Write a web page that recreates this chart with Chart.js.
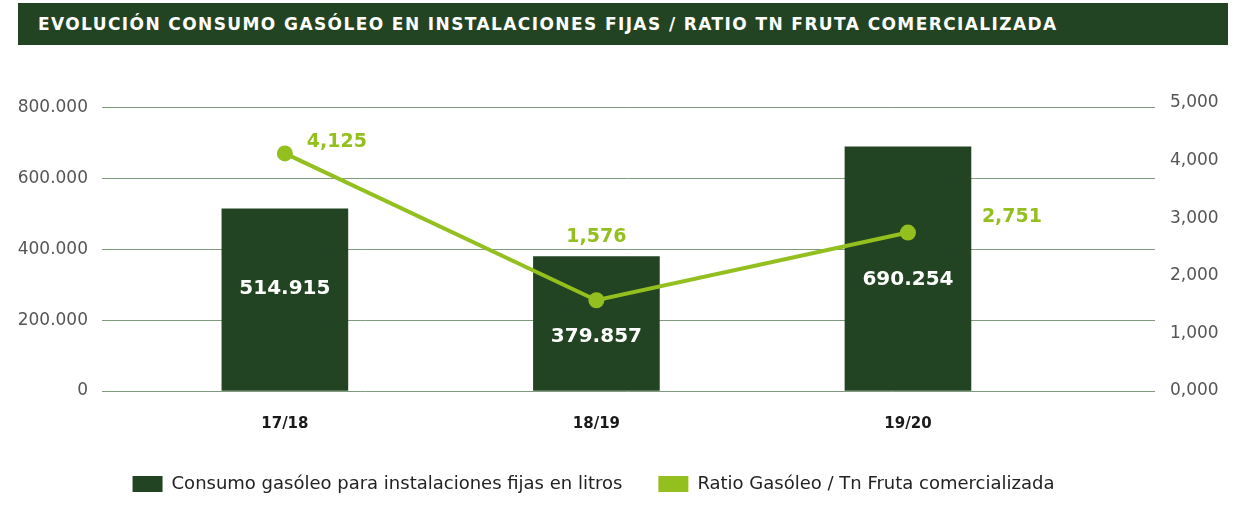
<!DOCTYPE html>
<html>
<head>
<meta charset="utf-8">
<script src="https://cdn.jsdelivr.net/npm/chart.js@4/dist/chart.umd.min.js"></script>
<style>
  html, body { margin: 0; padding: 0; background: #fff; }
  body { width: 1247px; height: 520px; position: relative; overflow: hidden; font-family: "DejaVu Sans", sans-serif; }
  .title {
    position: absolute; left: 18px; top: 3px; width: 1210px; height: 42px;
    background: #234423; color: #fff; font-weight: 700; font-size: 17px;
    line-height: 42px; padding-left: 20px; box-sizing: border-box; letter-spacing: 1.4px;
  }
  #wrap { position: absolute; left: 0; top: 0; width: 1247px; height: 520px; }
</style>
</head>
<body>
<div class="title">EVOLUCIÓN CONSUMO GASÓLEO EN INSTALACIONES FIJAS / RATIO TN FRUTA COMERCIALIZADA</div>
<div id="wrap"><canvas id="chart" width="1247" height="520"></canvas></div>
<script>
// data
const categories = ["17/18", "18/19", "19/20"];
const consumoLitros = [514915, 379857, 690254];
const ratioGasoleo = [4.125, 1.576, 2.751];
const leftTicks = [0, 200000, 400000, 600000, 800000];

const darkGreen = "#234423";
const lightGreen = "#93bf1f";
const gridColor = "#7f9a7c";
const fontFamily = "'DejaVu Sans', sans-serif";

// label placement tweaks (pixels), not data
const barLabelShift = [-11, 13, 11];
const lineLabelShift = [[52, -11], [0, -63], [104, -15]];

const fmtThousands = (v) => Math.round(v).toString().replace(/\B(?=(\d{3})+(?!\d))/g, ".");
const fmtRatio = (v) => v.toFixed(3).replace(".", ",");

const valueLabels = {
  id: "valueLabels",
  afterLayout(chart) {
    // legend sits a bit left of the canvas centre in the original
    if (chart.legend) {
      chart.legend.left -= 30;
      chart.legend.right -= 30;
    }
  },
  afterDatasetsDraw(chart) {
    const ctx = chart.ctx;
    ctx.save();
    ctx.textAlign = "center";
    ctx.textBaseline = "middle";
    chart.getDatasetMeta(0).data.forEach((bar, i) => {
      const mid = (bar.y + bar.base) / 2 + barLabelShift[i];
      ctx.fillStyle = "#fff";
      ctx.font = "700 20px " + fontFamily;
      ctx.fillText(fmtThousands(consumoLitros[i]), bar.x, mid);
    });
    chart.getDatasetMeta(1).data.forEach((pt, i) => {
      ctx.fillStyle = lightGreen;
      ctx.font = "700 19px " + fontFamily;
      ctx.fillText(fmtRatio(ratioGasoleo[i]), pt.x + lineLabelShift[i][0], pt.y + lineLabelShift[i][1]);
    });
    ctx.restore();
  }
};

new Chart(document.getElementById("chart"), {
  data: {
    datasets: [
      {
        type: "bar",
        label: "Consumo gasóleo para instalaciones fijas en litros",
        data: consumoLitros.map((v, i) => ({ x: i, y: v })),
        backgroundColor: darkGreen,
        borderWidth: 0,
        barThickness: 126,
        yAxisID: "y",
        order: 1
      },
      {
        type: "line",
        label: "Ratio Gasóleo / Tn Fruta comercializada",
        data: ratioGasoleo.map((v, i) => ({ x: i, y: v })),
        borderColor: lightGreen,
        backgroundColor: lightGreen,
        borderWidth: 4,
        pointRadius: 8,
        pointHoverRadius: 8,
        pointBackgroundColor: lightGreen,
        pointBorderWidth: 0,
        tension: 0,
        yAxisID: "y1",
        order: 0
      }
    ]
  },
  options: {
    responsive: false,
    animation: false,
    layout: { padding: { top: 103, left: 0, right: 0, bottom: 17 } },
    scales: {
      x: {
        type: "linear",
        offset: false,
        min: -0.587,
        max: 2.793,
        afterBuildTicks: (scale) => { scale.ticks = categories.map((c, i) => ({ value: i })); },
        afterFit: (scale) => { scale.height = 48; },
        grid: { display: false },
        border: { display: false },
        ticks: {
          callback: (v) => categories[v],
          color: "#1a1a1a",
          font: { family: fontFamily, size: 15, weight: "bold" },
          padding: 16
        }
      },
      y: {
        position: "left",
        min: 0,
        max: 814000,
        afterBuildTicks: (scale) => { scale.ticks = leftTicks.map((v) => ({ value: v })); },
        afterFit: (scale) => { scale.width = 102; },
        grid: { color: gridColor, lineWidth: 1, drawTicks: false },
        border: { display: false },
        ticks: {
          callback: (v) => fmtThousands(v),
          color: "#555",
          font: { family: fontFamily, size: 17 },
          padding: 14
        }
      },
      y1: {
        position: "right",
        min: 0,
        max: 5,
        afterFit: (scale) => { scale.width = 92; },
        grid: { display: false, drawTicks: false },
        border: { display: false },
        ticks: {
          stepSize: 1,
          callback: (v) => fmtRatio(v),
          color: "#555",
          font: { family: fontFamily, size: 17 },
          padding: 15
        }
      }
    },
    plugins: {
      title: { display: false },
      tooltip: { enabled: false },
      legend: {
        position: "bottom",
        labels: {
          boxWidth: 30,
          boxHeight: 16,
          padding: 36,
          color: "#222",
          font: { family: fontFamily, size: 18 },
          generateLabels: (chart) => chart.data.datasets.map((ds, i) => ({
            text: ds.label,
            fillStyle: ds.backgroundColor,
            strokeStyle: ds.backgroundColor,
            lineWidth: 0,
            fontColor: "#222",
            datasetIndex: i
          }))
        }
      }
    }
  },
  plugins: [valueLabels]
});
</script>
</body>
</html>
